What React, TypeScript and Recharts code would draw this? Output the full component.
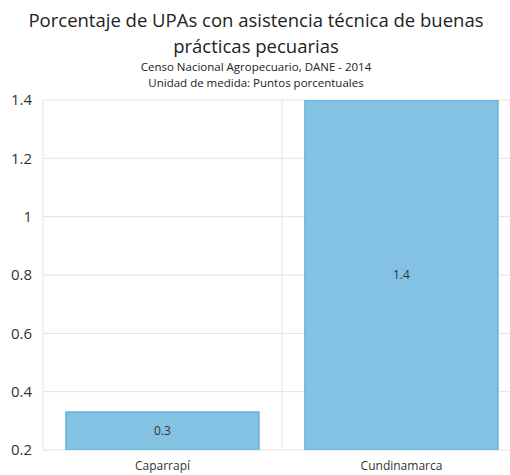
import { BarChart, Bar, XAxis, YAxis, CartesianGrid, LabelList } from 'recharts';

const categories = ['Caparrapí', 'Cundinamarca'];
const values = [0.33, 1.4];
const yTicks = [0.2, 0.4, 0.6, 0.8, 1, 1.2, 1.4];

const title = ['Porcentaje de UPAs con asistencia técnica de buenas', 'prácticas pecuarias'];
const subtitle = ['Censo Nacional Agropecuario, DANE - 2014', 'Unidad de medida: Puntos porcentuales'];

const FONT = '"Open Sans", "Noto Sans", sans-serif';

export default function App() {
  const data = categories.map((name, i) => ({ name, value: values[i] }));

  return (
    <div
      style={{
        position: 'absolute',
        top: 0,
        left: 0,
        width: 510,
        height: 475,
        overflow: 'hidden',
        background: '#fff',
        fontFamily: FONT,
      }}
    >
      <div style={{ position: 'absolute', top: 7, left: 0, width: 512, textAlign: 'center', color: '#222' }}>
        {title.map((t) => (
          <div key={t} style={{ fontSize: 18.5, lineHeight: '26px' }}>
            {t}
          </div>
        ))}
        {subtitle.map((t) => (
          <div key={t} style={{ fontSize: 11.5, lineHeight: '16px' }}>
            {t}
          </div>
        ))}
      </div>
      <div style={{ position: 'absolute', top: 0, left: 0 }}>
        <BarChart
          width={521}
          height={475}
          data={data}
          margin={{ top: 100, right: 0, bottom: 0, left: 0 }}
          barCategoryGap="9.6%"
        >
          <CartesianGrid
            stroke="#e3e3e3"
            strokeWidth={1}
            verticalCoordinatesGenerator={({ offset }: any) => [
              offset.left,
              offset.left + offset.width / 2,
              offset.left + offset.width,
            ]}
          />
          <XAxis
            dataKey="name"
            axisLine={false}
            tickLine={false}
            tickSize={0}
            tickMargin={11}
            height={25}
            tick={{ fontSize: 12, fill: '#333', fontFamily: FONT }}
          />
          <YAxis
            type="number"
            domain={[0.2, 1.4]}
            ticks={yTicks}
            allowDataOverflow
            axisLine={false}
            tickLine={false}
            tickSize={0}
            tickMargin={11}
            width={43}
            tick={{ fontSize: 15, fill: '#333', fontFamily: FONT }}
          />
          <Bar dataKey="value" fill="#84C2E3" stroke="#63B3DE" strokeWidth={1.5} isAnimationActive={false}>
            <LabelList
              dataKey="value"
              position="center"
              formatter={(v: any) => Number(v).toFixed(1)}
              style={{ fontSize: 12, fill: '#333', fontFamily: FONT }}
            />
          </Bar>
        </BarChart>
      </div>
    </div>
  );
}
